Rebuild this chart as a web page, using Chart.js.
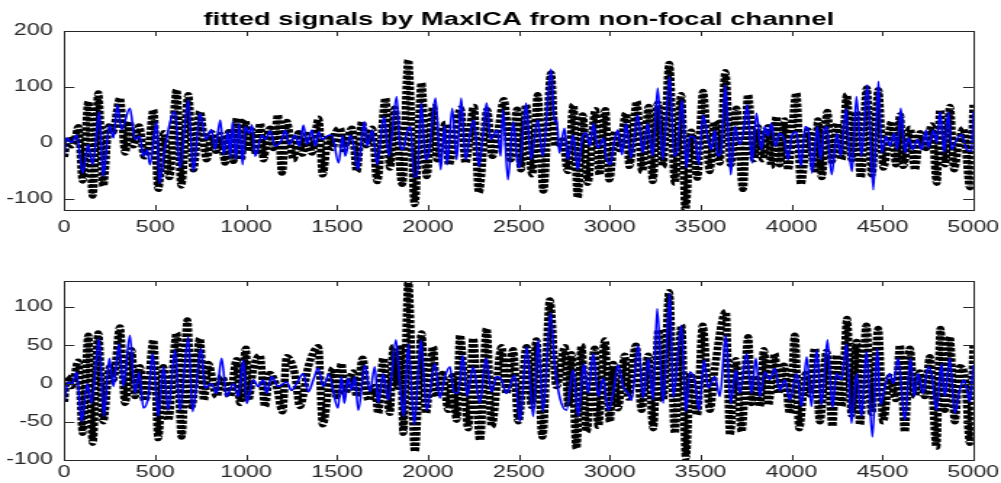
<!DOCTYPE html>
<html>
<head>
<meta charset="utf-8">
<script src="https://cdn.jsdelivr.net/npm/chart.js@4.4.0/dist/chart.umd.min.js"></script>
<style>
    html, body { margin: 0; padding: 0; background: #fff; overflow: hidden; }
    canvas { position: absolute; left: 0; }
</style>
</head>
<body>
<!-- canvases are drawn narrow and stretched sideways, like the exported figure -->
<canvas id="topChart" width="690" height="245" style="top:0;width:1001px;height:245px"></canvas>
<canvas id="bottomChart" width="690" height="238" style="top:245px;width:1001px;height:238px"></canvas>
<script>
// Chart data (local peaks and troughs)
const titleText = 'fitted signals by MaxICA from non-focal channel';
const xTicks = [0, 500, 1000, 1500, 2000, 2500, 3000, 3500, 4000, 4500, 5000];
const topYTicks = [-100, 0, 100, 200];
const bottomYTicks = [-100, -50, 0, 50, 100];
const topYRange = [-120, 200];
const bottomYRange = [-100, 134];

// top panel - black dotted signal
const topBlackT = [0, 20, 40, 60, 77, 101, 132, 156, 187, 214, 245, 265, 306, 335, 358, 380, 412, 440, 465, 490,
    517, 548, 578, 618, 643, 682, 710, 746, 783, 812, 835, 860, 885, 905, 931, 949, 973, 995, 1015, 1032,
    1055, 1078, 1096, 1115, 1133, 1150, 1175, 1197, 1224, 1261, 1289, 1310, 1335, 1362, 1399, 1421, 1454, 1475, 1495, 1518,
    1536, 1560, 1582, 1609, 1637, 1660, 1694, 1721, 1767, 1791, 1817, 1859, 1892, 1927, 1965, 1993, 2029, 2051, 2075, 2097,
    2115, 2150, 2180, 2207, 2253, 2280, 2326, 2354, 2385, 2418, 2455, 2491, 2512, 2540, 2573, 2604, 2635, 2677, 2701, 2720,
    2742, 2769, 2800, 2824, 2852, 2879, 2921, 2943, 2976, 2998, 3031, 3053, 3090, 3108, 3149, 3178, 3215, 3237, 3264, 3292,
    3328, 3358, 3394, 3416, 3449, 3482, 3513, 3550, 3578, 3605, 3636, 3666, 3697, 3733, 3761, 3794, 3815, 3842, 3871, 3889,
    3917, 3935, 3963, 3981, 4027, 4051, 4091, 4128, 4146, 4166, 4197, 4221, 4252, 4276, 4304, 4331, 4355, 4381, 4414, 4441,
    4478, 4505, 4551, 4575, 4597, 4615, 4652, 4679, 4707, 4740, 4771, 4799, 4817, 4844, 4872, 4894, 4920, 4945, 4982, 5000];
const topBlackV = [-25, 10, -5, 8, 29, -68, 74, -95, 89, -77, 30, 18, 80, -18, 38, -5, 30, -25, -5, 59,
    -83, 18, -62, 95, -77, 86, -48, 56, -30, 18, -15, 15, -36, 20, -33, 44, -30, 41, -15, 23,
    -20, 35, -30, 10, 26, -10, 50, -54, 38, -30, 18, -20, 15, -18, 44, -57, 14, -10, 20, 26,
    -12, 10, 26, -51, 38, -5, 26, -69, 80, -45, 62, -74, 148, -110, 107, -60, 65, -30, 10, 35,
    -39, 20, 62, -36, 65, -89, 59, -24, 20, 77, -30, 60, -48, 68, -57, 86, -86, 125, -6, 0,
    5, -51, 68, -98, 50, -72, 59, -57, 59, -66, 21, -12, 53, -42, 74, -51, 65, -69, 71, -42,
    142, -72, 86, -120, 21, -63, 92, -51, 38, -36, 127, -39, 62, -83, 86, -30, 29, -30, 29, -42,
    47, -39, 41, -48, 89, -74, 23, -48, 41, -62, 56, -33, 35, -30, 86, -30, 56, -62, 98, -57,
    95, -45, 38, -39, 50, -42, 26, -48, 18, -10, 32, -72, 59, -39, 65, -48, 0, 26, -80, 68];

// top panel - blue line
const topBlueT = [0, 13, 40, 68, 101, 132, 156, 193, 214, 248, 270, 292, 315, 361, 389, 416, 434, 456, 471, 508,
    523, 554, 609, 636, 682, 710, 746, 779, 810, 829, 858, 876, 900, 913, 926, 944, 962, 981, 995, 1017,
    1032, 1050, 1087, 1105, 1133, 1160, 1197, 1215, 1237, 1270, 1292, 1316, 1334, 1362, 1380, 1399, 1417, 1444, 1472, 1509,
    1531, 1545, 1573, 1591, 1615, 1633, 1651, 1666, 1694, 1721, 1758, 1785, 1828, 1846, 1864, 1883, 1905, 1923, 1941, 1963,
    1987, 2005, 2042, 2070, 2092, 2106, 2134, 2158, 2183, 2207, 2235, 2253, 2280, 2304, 2323, 2345, 2381, 2400, 2414, 2440,
    2469, 2491, 2503, 2540, 2567, 2604, 2632, 2677, 2696, 2709, 2723, 2751, 2769, 2800, 2824, 2852, 2870, 2892, 2910, 2934,
    2952, 2965, 2980, 3004, 3026, 3044, 3068, 3090, 3117, 3154, 3182, 3209, 3237, 3264, 3292, 3330, 3354, 3372, 3398, 3422,
    3440, 3468, 3490, 3513, 3541, 3559, 3578, 3596, 3614, 3636, 3666, 3688, 3715, 3733, 3757, 3783, 3807, 3834, 3853, 3871,
    3889, 3911, 3935, 3963, 3981, 4003, 4027, 4051, 4076, 4095, 4113, 4142, 4160, 4179, 4194, 4221, 4249, 4271, 4300, 4318,
    4333, 4357, 4385, 4417, 4450, 4478, 4496, 4520, 4542, 4564, 4582, 4601, 4624, 4643, 4667, 4692, 4716, 4740, 4753, 4780,
    4799, 4817, 4839, 4863, 4881, 4909, 4936, 4964, 4991, 5000];
const topBlueV = [-24, 9, 0, 14, -54, -3, -39, 56, -60, 32, 9, 68, 24, 62, 6, 12, -24, -12, -39, 38,
    -72, -6, 56, -45, 77, -51, 53, 6, 24, -12, 41, -21, 21, -27, 38, -30, 35, -39, 29, 17,
    32, -24, 14, 6, 21, -6, 6, 23, -3, 14, -6, 32, -3, 23, -6, 20, 6, 12, 14, -36,
    14, -24, 14, -3, -48, 0, 38, -6, 23, -39, 47, -24, 83, -3, -12, 17, 29, -60, -60, 71,
    -30, -18, 80, -48, 32, -39, 62, -30, 80, -30, 23, 41, -42, 18, 71, 6, 23, -24, 59, -66,
    38, -30, -45, 71, -30, 41, -24, 132, 38, 41, -18, 26, -30, 14, -48, 12, 18, -6, 35, -9,
    0, 9, -24, -39, 3, 23, -21, 35, -27, 50, -18, 35, -24, 98, -30, 119, -24, -12, 77, -45,
    12, 9, -39, 50, 6, -12, 23, -24, -12, 104, -57, 29, -3, 14, 68, -36, 53, -12, 29, 12,
    35, -6, 17, 3, -30, 14, 20, -42, 29, 17, -54, 29, -30, 21, 29, -57, 17, -24, 62, -18,
    -51, 83, -24, 104, -84, 110, -18, 12, -6, 17, -12, 62, -18, 9, -12, 6, -12, 23, -9, 23,
    0, 56, -18, 56, -12, 6, 15, -12, -15, 56];

// bottom panel - black dotted signal
const bottomBlackT = [0, 15, 40, 77, 101, 132, 156, 187, 214, 250, 270, 306, 334, 370, 389, 416, 440, 460, 490, 517,
    545, 572, 618, 645, 677, 700, 746, 768, 792, 838, 865, 911, 948, 966, 999, 1012, 1040, 1076, 1104, 1131,
    1168, 1200, 1223, 1268, 1296, 1342, 1397, 1421, 1461, 1479, 1498, 1525, 1543, 1589, 1608, 1641, 1672, 1708, 1727, 1754,
    1791, 1809, 1835, 1850, 1865, 1892, 1928, 1965, 1989, 2029, 2048, 2080, 2112, 2135, 2158, 2176, 2222, 2249, 2286, 2323,
    2350, 2405, 2432, 2469, 2497, 2543, 2570, 2597, 2630, 2671, 2707, 2753, 2772, 2790, 2817, 2845, 2872, 2918, 2937, 2973,
    3001, 3020, 3045, 3083, 3101, 3144, 3175, 3212, 3239, 3268, 3294, 3327, 3358, 3395, 3419, 3445, 3481, 3511, 3551, 3578,
    3639, 3661, 3694, 3725, 3762, 3780, 3800, 3826, 3848, 3872, 3908, 3927, 3958, 3991, 4018, 4042, 4078, 4100, 4128, 4156,
    4193, 4225, 4247, 4275, 4306, 4330, 4358, 4376, 4412, 4440, 4477, 4504, 4541, 4574, 4596, 4623, 4651, 4678, 4706, 4733,
    4761, 4797, 4819, 4843, 4871, 4898, 4926, 4953, 4981, 5000];
const bottomBlackV = [-24, 9, -4, 29, -65, 63, -78, 66, -50, 22, 5, 74, -26, 44, -17, 22, -22, -9, 57, -72,
    22, -48, 66, -70, 83, -30, 59, -22, 26, -17, 9, -17, 31, -26, 46, -22, 20, 37, -30, 13,
    -4, -37, 35, 13, -30, 22, 48, -54, 5, 20, -17, 26, -13, 15, -17, 33, -22, -4, -39, 33,
    -39, 48, -5, 50, -65, 135, -89, 66, -39, 48, -17, 13, -35, 10, -48, 63, -59, 59, -74, 72,
    -56, 48, -13, 44, -50, 48, -30, 57, -70, 109, -4, 48, -30, 39, -85, 50, -63, 46, -56, 57,
    -50, 26, -33, 37, -19, 50, -35, 37, -59, 70, -22, 120, -65, 76, -98, 13, -41, 76, -35, 20,
    94, -67, 31, -63, 61, -26, 10, -30, 44, -28, 39, -13, 24, -39, 63, -59, 13, -15, 46, -50,
    42, -56, 37, -30, 85, -41, 55, -54, 76, -39, 72, -50, 9, -21, 50, -63, 46, -17, 15, -17,
    35, -83, 72, -35, 61, -50, 22, 9, -78, 52];

// bottom panel - blue line
const bottomBlueT = [0, 22, 40, 68, 95, 127, 150, 191, 218, 248, 270, 301, 325, 361, 389, 413, 435, 462, 486, 517,
    545, 572, 609, 636, 682, 706, 752, 774, 810, 838, 865, 893, 930, 957, 985, 1003, 1039, 1067, 1095, 1113,
    1140, 1177, 1223, 1250, 1278, 1315, 1342, 1370, 1397, 1424, 1455, 1505, 1525, 1540, 1562, 1580, 1598, 1617, 1653, 1681,
    1708, 1727, 1754, 1782, 1824, 1846, 1868, 1892, 1925, 1961, 1993, 2038, 2066, 2094, 2121, 2143, 2167, 2191, 2216, 2249,
    2286, 2319, 2350, 2378, 2405, 2432, 2478, 2506, 2543, 2579, 2607, 2634, 2674, 2698, 2726, 2762, 2799, 2827, 2858, 2882,
    2909, 2937, 2964, 2992, 3019, 3047, 3074, 3101, 3120, 3157, 3184, 3212, 3239, 3261, 3294, 3331, 3349, 3395, 3419, 3441,
    3467, 3492, 3518, 3542, 3578, 3606, 3639, 3665, 3694, 3716, 3753, 3780, 3804, 3826, 3853, 3881, 3908, 3936, 3963, 3991,
    4028, 4055, 4083, 4110, 4138, 4165, 4198, 4225, 4247, 4275, 4303, 4330, 4358, 4385, 4412, 4445, 4471, 4489, 4518, 4541,
    4560, 4587, 4623, 4654, 4675, 4697, 4724, 4752, 4770, 4797, 4825, 4843, 4871, 4898, 4926, 4948, 4963, 4981, 5000];
const bottomBlueV = [-24, 2, -2, 15, -50, 0, -26, 59, -43, 33, -4, 52, -4, 63, -13, 15, -32, -17, 39, -43,
    22, -35, 44, -35, 61, -37, 46, -6, 0, -13, 33, -17, 0, -17, 31, -26, 5, -4, 5, -13,
    9, -4, 2, -9, 0, 13, -11, 5, 20, -4, 12, -32, 9, -26, 7, -9, 9, -35, 24, -11,
    22, -26, 13, -22, 57, 0, -43, 52, -54, 57, -35, 26, -19, 9, 22, -11, -13, 37, -17, 22,
    -26, 33, -11, 9, 5, -13, 11, -50, 48, -43, 57, -37, 92, 22, -19, -35, 18, -43, 26, -13,
    39, -17, 7, -35, -13, 24, -4, -13, -22, 50, -19, 33, -22, 98, -26, 118, -19, 76, -37, 15,
    4, -35, 31, -6, 9, -17, 63, -26, 18, -13, 39, -13, 33, -17, 15, 5, 20, -9, 5, -22,
    13, -30, 35, -30, 44, -28, 57, -32, 13, 5, 52, -52, 13, -43, 42, -70, 46, -28, 0, 13,
    0, 33, -48, 33, -17, 13, -13, 22, 13, -35, 26, -17, 33, -39, -8, 5, -6, -24, 24];

const axisColor = '#262626';
const tickFont = { family: '"Liberation Sans", Arial, sans-serif', size: 16 };

function toPoints(ts, vs) {
    return ts.map((t, i) => ({ x: t, y: vs[i] }));
}

// box, inward ticks on all four sides and optional title, MATLAB style
const framePlugin = {
    id: 'matlabFrame',
    afterDraw(chart, args, opts) {
        const ctx = chart.ctx;
        const a = chart.chartArea;
        const xs = chart.scales.x;
        const ys = chart.scales.y;
        ctx.save();
        ctx.strokeStyle = axisColor;
        ctx.lineWidth = 1;
        ctx.beginPath();
        opts.xTicks.forEach(v => {
            const px = Math.round(xs.getPixelForValue(v)) + 0.5;
            ctx.moveTo(px, a.bottom);
            ctx.lineTo(px, a.bottom - 5);
            ctx.moveTo(px, a.top);
            ctx.lineTo(px, a.top + 5);
        });
        opts.yTicks.forEach(v => {
            const py = Math.round(ys.getPixelForValue(v)) + 0.5;
            ctx.moveTo(a.left, py);
            ctx.lineTo(a.left + 7, py);
            ctx.moveTo(a.right, py);
            ctx.lineTo(a.right - 7, py);
        });
        ctx.stroke();
        ctx.strokeRect(Math.round(a.left) + 0.5, Math.round(a.top) + 0.5,
            Math.round(a.right - a.left), Math.round(a.bottom - a.top));
        if (opts.title) {
            ctx.fillStyle = '#000';
            ctx.font = 'bold 19px "Liberation Sans", Arial, sans-serif';
            ctx.textAlign = 'center';
            ctx.textBaseline = 'alphabetic';
            ctx.fillText(opts.title, (a.left + a.right) / 2, 24.5);
        }
        ctx.restore();
    }
};

function makePanel(canvasId, cfg) {
    const ctx = document.getElementById(canvasId).getContext('2d');
    return new Chart(ctx, {
        type: 'line',
        data: {
            datasets: [
                {
                    label: 'fitted',
                    data: toPoints(cfg.blueT, cfg.blueV),
                    borderColor: '#0000ff',
                    borderWidth: 1.6,
                    pointRadius: 0,
                    cubicInterpolationMode: 'monotone',
                    order: 0
                },
                {
                    label: 'signal',
                    data: toPoints(cfg.blackT, cfg.blackV),
                    borderColor: '#000000',
                    borderWidth: 5.5,
                    borderDash: [3.5, 1.6],
                    borderJoinStyle: 'round',
                    pointRadius: 0,
                    cubicInterpolationMode: 'monotone',
                    order: 1
                }
            ]
        },
        options: {
            responsive: false,
            animation: false,
            events: [],
            devicePixelRatio: 1,
            layout: {
                padding: { left: 0, right: 19.1, top: cfg.padTop, bottom: 0 }
            },
            plugins: {
                legend: { display: false },
                tooltip: { enabled: false },
                title: { display: false },
                matlabFrame: { xTicks: xTicks, yTicks: cfg.yTicks, title: cfg.title }
            },
            scales: {
                x: {
                    type: 'linear',
                    min: 0,
                    max: 5000,
                    grid: { display: false, drawTicks: false },
                    border: { display: false },
                    ticks: {
                        color: axisColor, font: tickFont, padding: cfg.xPad, maxRotation: 0, autoSkip: false,
                        callback: v => String(v)
                    },
                    afterBuildTicks: axis => { axis.ticks = xTicks.map(v => ({ value: v })); },
                    afterFit: axis => {
                        axis.height = cfg.xAxisHeight;
                        axis.paddingLeft = 0;
                        axis.paddingRight = 0;
                    }
                },
                y: {
                    min: cfg.yRange[0],
                    max: cfg.yRange[1],
                    grid: { display: false, drawTicks: false },
                    border: { display: false },
                    ticks: { color: axisColor, font: tickFont, padding: 8, callback: v => String(v) },
                    afterBuildTicks: axis => { axis.ticks = cfg.yTicks.map(v => ({ value: v })); },
                    afterFit: axis => {
                        axis.width = 44.3;
                        axis.paddingTop = 0;
                        axis.paddingBottom = 0;
                    }
                }
            }
        },
        plugins: [framePlugin]
    });
}

makePanel('topChart', {
    blackT: topBlackT, blackV: topBlackV,
    blueT: topBlueT, blueV: topBlueV,
    yTicks: topYTicks, yRange: topYRange,
    title: titleText,
    padTop: 31, xAxisHeight: 35, xPad: 8
});

makePanel('bottomChart', {
    blackT: bottomBlackT, blackV: bottomBlackV,
    blueT: bottomBlueT, blueV: bottomBlueV,
    yTicks: bottomYTicks, yRange: bottomYRange,
    title: null,
    padTop: 36, xAxisHeight: 23, xPad: 3
});
</script>
</body>
</html>
